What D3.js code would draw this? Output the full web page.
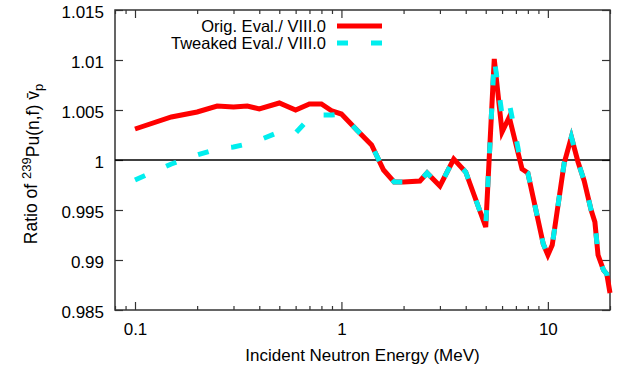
<!DOCTYPE html>
<html>
<head>
<meta charset="utf-8">
<script src="https://cdn.jsdelivr.net/npm/d3@7"></script>
<style>
	body { margin: 0; background: #fff; }
	svg text { font-family: "Liberation Sans", Arial, sans-serif; fill: #000; }
</style>
</head>
<body>
<div id="chart"></div>
<script>
// incident neutron energy (MeV)
const energies = [0.1, 0.15, 0.2, 0.25, 0.3, 0.35, 0.4, 0.5, 0.6, 0.7, 0.8, 0.9, 1.0, 1.2, 1.4, 1.6, 1.8, 2.0, 2.4, 2.6, 3.0, 3.5, 4.0, 5.0, 5.5, 6.0, 6.5, 7.5, 8.0, 9.5, 10.0, 10.5, 12.0, 13.0, 14.0, 15.0, 16.2, 16.9, 17.5, 18.6, 19.3, 20.0];

// ratio to VIII.0
const origRatio = [1.0031, 1.0043, 1.0048, 1.0054, 1.0053, 1.0054, 1.0051, 1.0057, 1.0050, 1.0056, 1.0056, 1.0049, 1.0046, 1.0029, 1.0015, 0.9990, 0.9978, 0.9978, 0.9979, 0.9987, 0.9974, 1.0001, 0.9988, 0.9933, 1.0101, 1.0028, 1.0043, 0.9991, 0.9987, 0.9916, 0.9905, 0.9915, 0.9997, 1.0023, 0.9998, 0.9979, 0.9950, 0.9938, 0.9905, 0.9890, 0.9886, 0.9867];
const tweakedRatio = [0.9980, 0.9996, 1.0005, 1.0011, 1.0013, 1.0016, 1.0020, 1.0028, 1.0027, 1.0042, 1.0045, 1.0045, 1.0046, 1.0029, 1.0015, 0.9990, 0.9978, 0.9978, 0.9979, 0.9987, 0.9974, 1.0001, 0.9988, 0.9933, 1.0101, 1.0045, 1.0057, 0.9991, 0.9987, 0.9916, 0.9905, 0.9915, 0.9997, 1.0023, 0.9998, 0.9979, 0.9950, 0.9938, 0.9905, 0.9890, 0.9886, 0.9867];

const seriesNames = ["Orig. Eval./ VIII.0", "Tweaked Eval./ VIII.0"];
const yTicks = [0.985, 0.99, 0.995, 1, 1.005, 1.01, 1.015];
const xMajorTicks = [0.1, 1, 10];
const xMinorTicks = [0.08, 0.09, 0.2, 0.3, 0.4, 0.5, 0.6, 0.7, 0.8, 0.9, 2, 3, 4, 5, 6, 7, 8, 9, 20];

const width = 620, height = 368;
const margin = { top: 10, right: 10, bottom: 58, left: 115 };
const w = width - margin.left - margin.right;
const h = height - margin.top - margin.bottom;

const svg = d3.select('#chart').append('svg')
	.attr('width', width)
	.attr('height', height);

const chart = svg.append('g')
	.attr('transform', `translate(${margin.left}, ${margin.top})`);

const x = d3.scaleLog().domain([0.08, 20]).range([0, w]);
const y = d3.scaleLinear().domain([0.985, 1.015]).range([h, 0]);

const fmt = d => String(+d.toFixed(3));

// axes, ticks pointing inward on all four sides
chart.append('g').attr('class', 'axis y-left')
	.call(d3.axisLeft(y).tickValues(yTicks).tickSize(-8).tickSizeOuter(0).tickPadding(11).tickFormat(fmt));
chart.append('g').attr('class', 'axis y-right')
	.attr('transform', `translate(${w}, 0)`)
	.call(d3.axisRight(y).tickValues(yTicks).tickSize(-8).tickSizeOuter(0).tickFormat(''));
chart.append('g').attr('class', 'axis x-bottom')
	.attr('transform', `translate(0, ${h})`)
	.call(d3.axisBottom(x).tickValues(xMajorTicks).tickSize(-8).tickSizeOuter(0).tickPadding(13).tickFormat(d => d));
chart.append('g').attr('class', 'axis x-bottom-minor')
	.attr('transform', `translate(0, ${h})`)
	.call(d3.axisBottom(x).tickValues(xMinorTicks).tickSize(-4).tickSizeOuter(0).tickFormat(''));
chart.append('g').attr('class', 'axis x-top')
	.call(d3.axisTop(x).tickValues(xMajorTicks).tickSize(-8).tickSizeOuter(0).tickFormat(''));
chart.append('g').attr('class', 'axis x-top-minor')
	.call(d3.axisTop(x).tickValues(xMinorTicks).tickSize(-4).tickSizeOuter(0).tickFormat(''));

chart.selectAll('.axis .domain').remove();
chart.selectAll('.axis line').attr('stroke', '#333').attr('stroke-width', 1.2);
chart.selectAll('.axis text').style('font-size', '17px').attr('fill', '#000');
chart.selectAll('.y-left text').attr('dy', '0.42em');

// frame
chart.append('rect')
	.attr('width', w).attr('height', h)
	.attr('fill', 'none')
	.attr('stroke', '#333')
	.attr('stroke-width', 1.5);

// reference line at ratio 1
chart.append('line')
	.attr('x1', 0).attr('x2', w)
	.attr('y1', y(1)).attr('y2', y(1))
	.attr('stroke', '#000')
	.attr('stroke-width', 1.5);

const line = d3.line()
	.x(d => x(d[0]))
	.y(d => y(d[1]));

chart.append('path')
	.datum(energies.map((e, i) => [e, origRatio[i]]))
	.attr('d', line)
	.attr('fill', 'none')
	.attr('stroke', '#ff0000')
	.attr('stroke-width', 5);

chart.append('path')
	.datum(energies.map((e, i) => [e, tweakedRatio[i]]))
	.attr('d', line)
	.attr('fill', 'none')
	.attr('stroke', '#00eeee')
	.attr('stroke-width', 5)
	.attr('stroke-dasharray', '11,23');

// legend
const legend = chart.append('g').attr('transform', 'translate(211, 0)');
const styles = [{ color: '#ff0000', dash: null }, { color: '#00eeee', dash: '11,23' }];
seriesNames.forEach((name, i) => {
	legend.append('text')
		.attr('x', 0)
		.attr('y', 22 + i * 17)
		.attr('text-anchor', 'end')
		.style('font-size', '16.5px')
		.text(name);
	legend.append('line')
		.attr('x1', 11).attr('x2', 56)
		.attr('y1', 16 + i * 17).attr('y2', 16 + i * 17)
		.attr('stroke', styles[i].color)
		.attr('stroke-width', 5)
		.attr('stroke-dasharray', styles[i].dash);
});

// X axis label
svg.append('text')
	.attr('x', margin.left + w / 2)
	.attr('y', 361)
	.attr('text-anchor', 'middle')
	.style('font-size', '17px')
	.text('Incident Neutron Energy (MeV)');

// Y axis label
const yLabel = svg.append('text')
	.attr('transform', `translate(37, 164) rotate(-90)`)
	.attr('text-anchor', 'middle')
	.style('font-size', '17.5px');
yLabel.append('tspan').text('Ratio of ');
yLabel.append('tspan').attr('dy', '-0.45em').style('font-size', '13px').text('239');
yLabel.append('tspan').attr('dy', '0.45em').text('Pu(n,f) v\u0304');
yLabel.append('tspan').attr('dy', '0.3em').style('font-size', '13px').text('p');
</script>
</body>
</html>
